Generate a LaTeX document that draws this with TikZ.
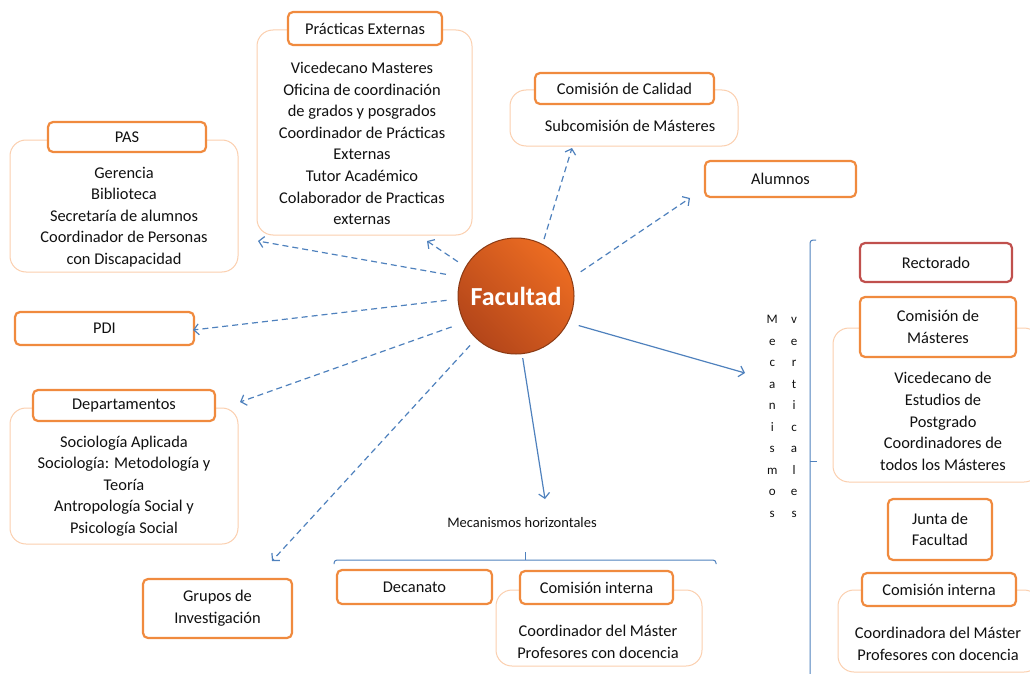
\documentclass[tikz,border=0pt]{standalone}
\usepackage{fontspec}
\setmainfont{Carlito}
\usetikzlibrary{arrows.meta}

\definecolor{hdorange}{HTML}{F08A3E}
\definecolor{bodyorange}{HTML}{FBCFAE}
\definecolor{linkblue}{HTML}{4F81BD}
\definecolor{rectred}{HTML}{C0504D}
\definecolor{facdark}{HTML}{B4461A}
\definecolor{faclight}{HTML}{EC6C22}
\definecolor{facedge}{HTML}{8A3A14}
\definecolor{inktext}{HTML}{111111}

\tikzset{
  headbox/.style={draw=hdorange, line width=2.2pt, rounded corners=5pt, fill=white, align=center,
    text=inktext, font=\fontsize{16.4}{21.6}\selectfont, inner sep=2pt},
  redbox/.style={headbox, draw=rectred},
  bodybox/.style={draw=bodyorange, line width=1pt, rounded corners=16pt, fill=white},
  listtext/.style={align=center, text=inktext, font=\fontsize{16.4}{21.6}\selectfont, inner sep=0pt},
  link/.style={draw=linkblue, line width=1.2pt, dash pattern=on 6pt off 4pt,
    -{Straight Barb[length=5pt,width=11pt]}},
  mainlink/.style={link, solid},
  bracket/.style={draw=linkblue, line width=1pt}
}

\begin{document}
\begin{tikzpicture}[x=1pt, y=-1pt]
  \useasboundingbox (0,0) rectangle (1030,674);
  \clip (0,0) rectangle (1030,674);

  \node[bodybox, minimum width=228pt, minimum height=132pt] (pasbody) at (124,206) {};
  \node[bodybox, minimum width=215pt, minimum height=205pt] (pracbody) at (364.5,132.5) {};
  \node[bodybox, minimum width=228pt, minimum height=56pt] (calbody) at (624,118) {};
  \node[bodybox, minimum width=228pt, minimum height=136pt] (deptbody) at (124,476) {};
  \node[bodybox, minimum width=207pt, minimum height=154pt] (cmbody) at (936.5,405) {};
  \node[bodybox, minimum width=206pt, minimum height=76pt] (cibody) at (599,628) {};
  \node[bodybox, minimum width=202pt, minimum height=82pt] (cirbody) at (939,631) {};

  \node[headbox, minimum width=158pt, minimum height=30pt] (pashead) at (127,137) {PAS};
  \node[headbox, minimum width=154pt, minimum height=33pt] (prachead) at (365,28.5) {Prácticas Externas};
  \node[headbox, minimum width=179pt, minimum height=31pt] (calhead) at (624.5,88.5) {Comisión de Calidad};
  \node[headbox, minimum width=182pt, minimum height=31pt] (depthead) at (124,405.5) {Departamentos};
  \node[headbox, minimum width=156pt, minimum height=60pt] (cmhead) at (938,327) {Comisión de\\Másteres};
  \node[headbox, minimum width=153pt, minimum height=33pt] (cihead) at (596.5,587.5) {Comisión interna};
  \node[headbox, minimum width=154pt, minimum height=33pt] (cirhead) at (939,589.5) {Comisión interna};

  \node[headbox, minimum width=151pt, minimum height=36pt] (alumnos) at (780.5,179) {Alumnos};
  \node[headbox, minimum width=179pt, minimum height=33pt] (pdi) at (104.5,328.5) {PDI};
  \node[headbox, minimum width=149pt, minimum height=59pt] (grupos) at (217.5,608.5) {Grupos de\\Investigación};
  \node[headbox, minimum width=155pt, minimum height=34pt] (decanato) at (414.5,587) {Decanato};
  \node[headbox, minimum width=104pt, minimum height=61pt] (junta) at (940,529.5) {Junta de\\Facultad};
  \node[redbox, minimum width=152pt, minimum height=39pt] (rectorado) at (936,262.5) {Rectorado};

  \node[listtext] (pastext) at (124,217) {Gerencia\\Biblioteca\\Secretaría de alumnos\\Coordinador de Personas\\con Discapacidad};
  \node[listtext] (practext) at (362,143.5) {Vicedecano Masteres\\Oficina de coordinación\\de grados y posgrados\\Coordinador de Prácticas\\Externas\\Tutor Académico\\Colaborador de Practicas\\externas};
  \node[listtext] (caltext) at (630,126) {Subcomisión de Másteres};
  \node[listtext] (depttext) at (124,486) {Sociología Aplicada\\Sociología: Metodología y\\Teoría\\Antropología Social y\\Psicología Social};
  \node[listtext] (cmtext) at (943,421.5) {Vicedecano de\\Estudios de\\Postgrado\\Coordinadores de\\todos los Másteres};
  \node[listtext] (citext) at (598,642) {Coordinador del Máster\\Profesores con docencia};
  \node[listtext] (cirtext) at (938,644) {Coordinadora del Máster\\Profesores con docencia};

  \node[circle, minimum size=116pt, draw=facedge, line width=1pt, top color=faclight, bottom color=facdark,
    shading angle=-45, text=white, font=\fontsize{26}{30}\selectfont\bfseries] (fac) at (516,296) {Facultad};

  \node[text=inktext, font=\fontsize{14.5}{16}\selectfont] (horiz) at (522,523) {Mecanismos horizontales};
  \node[text=inktext, font=\fontsize{13}{21.5}\selectfont, inner sep=0pt] (vert) at (782,416)
    {\begin{tabular}{@{}c@{\hspace{13pt}}c@{}}
      M & v\\ e & e\\ c & r\\ a & t\\ n & i\\ i & c\\ s & a\\ m & l\\ o & e\\ s & s
    \end{tabular}};

  \coordinate (tpas) at (258,241);
  \coordinate (tprac) at (427,241);
  \coordinate (tcal) at (572,148);
  \coordinate (talum) at (690,198);
  \coordinate (tpdi) at (193,330);
  \coordinate (tdept) at (240,402);
  \coordinate (tgrup) at (272,561);
  \coordinate (thor) at (545,499);
  \coordinate (tver) at (745,373);

  \draw[link, shorten <=15pt] (fac.161) -- (tpas);
  \draw[link, shorten <=9pt] (fac.150) -- (tprac);
  \draw[link, shorten <=5pt] (fac.63) -- (tcal);
  \draw[link, shorten <=11pt] (fac.18) -- (talum);
  \draw[link, shorten <=11pt] (fac.183) -- (tpdi);
  \draw[link, shorten <=13pt] (fac.207) -- (tdept);
  \draw[link, shorten <=9pt] (fac.227) -- (tgrup);
  \draw[mainlink, shorten <=4pt] (fac.276) -- (thor);
  \draw[mainlink, shorten <=11pt] (fac.333) -- (tver);

  \draw[bracket, rounded corners=3pt] (334,564) -- (334,560) -- (716,560) -- (716,564);
  \draw[bracket] (525,560) -- (525,552);
  \draw[bracket, rounded corners=3pt] (816,240) -- (810,240) -- (810,680);
  \draw[bracket] (810,461) -- (817,461);

\end{tikzpicture}
\end{document}
